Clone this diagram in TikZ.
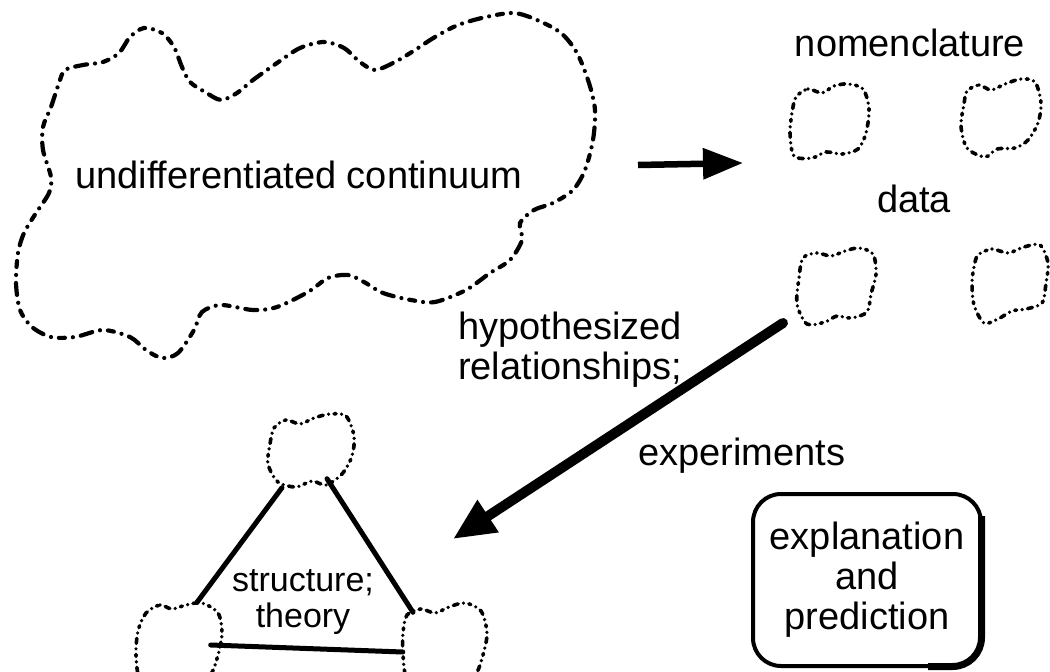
\documentclass[tikz,border=0pt]{standalone}
\usepackage{fontspec}
\setmainfont{Liberation Sans}
\usetikzlibrary{arrows.meta}
\tikzset{
  bigcloud/.style={line width=4.2pt, line cap=round, dash pattern=on 0pt off 8pt on 6pt off 8pt on 0pt off 8pt on 12pt off 8pt},
  smallcloud/.style={line width=3.6pt, line cap=round, dash pattern=on 0pt off 5.5pt on 5pt off 5.5pt on 0pt off 5.5pt on 2pt off 5.5pt},
  lbl/.style={inner sep=0pt, font=\fontsize{38}{40}\selectfont},
  anchornode/.style={inner sep=0pt, draw=none},
  tri/.style={line width=5pt, line cap=round},
}
\begin{document}
\begin{tikzpicture}[x=1pt,y=-1pt]
\useasboundingbox (0,0) rectangle (1050,672);
\clip (0,0) rectangle (1050,672);

% big cloud
\node[anchornode, minimum width=580pt, minimum height=345pt] (cont) at (305,185) {};
\draw[bigcloud] plot[smooth cycle, tension=0.5] coordinates {
(144,28) (162,33) (174,47) (182,67) (190,82) (205,92) (221,100) (237,93) (253,80) (277,63) (300,48) (324,42) (344,48) (360,62) (375,70) (395,62) (415,50) (435,37) (458,25) (486,17) (514,13) (537,20) (561,33) (577,53) (589,83) (595,110) (593,140) (585,170) (573,190) (553,203) (534,210) (520,223) (522,240) (510,260) (490,273) (466,290) (435,302) (411,300) (383,293) (364,282) (348,275) (328,278) (308,292) (277,307) (253,310) (221,305) (202,312) (194,330) (178,353) (162,358) (146,350) (130,337) (103,330) (75,337) (51,337) (32,327) (20,310) (16,283) (18,253) (24,233) (36,213) (49,193) (51,177) (43,150) (43,127) (51,107) (59,83) (65,70) (83,65) (103,62) (119,53) (130,37)};
\node[lbl, anchor=base west] (contlbl) at (75,188) {undifferentiated continuum};

% arrow cloud -> terms
\coordinate (a1s) at (638,165);
\coordinate (a1e) at (743,163);
\draw[line width=6.5pt, -{Triangle[length=40pt,width=30pt]}] (a1s) -- (a1e);

% labels right
\node[lbl, anchor=base] (nomen) at (910,56) {nomenclature};
\node[lbl, anchor=base] (data) at (914,212) {data};

% small clouds
\node[anchornode, minimum width=80pt, minimum height=78pt] (nl) at (830,121) {};
\draw[smallcloud, shift={(nl.center)}] plot[smooth cycle] coordinates {
(-34,-24) (-22,-32) (-8,-28) (4,-35) (18,-37) (33,-32) (39,-12) (36,12) (28,28) (12,33) (-4,31) (-18,37) (-36,35) (-40,12) (-38,-8)};
\node[anchornode, minimum width=82pt, minimum height=81pt] (nr) at (1001,118) {};
\draw[smallcloud, shift={(nr.center)}] plot[smooth cycle] coordinates {
(-34,-27) (-22,-33) (-10,-28) (4,-34) (20,-39) (34,-36) (40,-15) (37,5) (27,22) (14,30) (-4,31) (-16,39) (-34,30) (-40,8) (-37,-14)};
\node[anchornode, minimum width=81pt, minimum height=82pt] (dl) at (837,286) {};
\draw[smallcloud, shift={(dl.center)}] plot[smooth cycle] coordinates {
(-34,-28) (-20,-33) (-6,-30) (8,-35) (22,-38) (36,-32) (39,-12) (34,8) (30,26) (14,32) (0,30) (-12,36) (-30,38) (-40,18) (-38,-8)};
\node[anchornode, minimum width=76pt, minimum height=80pt] (dr) at (1010,283) {};
\draw[smallcloud, shift={(dr.center)}] plot[smooth cycle] coordinates {
(-32,-28) (-18,-34) (-2,-30) (14,-36) (30,-38) (38,-20) (36,0) (32,20) (16,26) (2,28) (-12,36) (-26,40) (-36,22) (-38,0) (-36,-16)};

% hypothesized label
\node[lbl, anchor=north west, align=left] (hyp) at (458,312) {hypothesized\\relationships;};

% big arrow
\coordinate (a2s) at (783,323);
\coordinate (a2e) at (453,539);
\draw[line width=10pt, line cap=round, -{Triangle[length=42pt,width=36pt]}] (a2s) -- (a2e);

\node[lbl, anchor=base west] (exp) at (638,465) {experiments};

% triangle clouds
\node[anchornode, minimum width=89pt, minimum height=75pt] (T) at (312,450) {};
\draw[smallcloud, shift={(T.center)}] plot[smooth cycle] coordinates {
(-38,-22) (-26,-30) (-12,-26) (2,-32) (18,-36) (34,-34) (42,-14) (40,6) (30,24) (14,35) (0,31) (-16,37) (-34,32) (-44,14) (-42,-6)};
\node[anchornode, minimum width=85pt, minimum height=85pt] (BL) at (180,645) {};
\draw[smallcloud, shift={(BL.center)}] plot[smooth cycle] coordinates {
(-34,-32) (-20,-40) (-8,-36) (6,-40) (22,-42) (38,-32) (42,-12) (38,10) (30,30) (10,36) (-6,34) (-22,40) (-40,34) (-44,10) (-42,-14)};
\node[anchornode, minimum width=84pt, minimum height=85pt] (BR) at (445,645) {};
\draw[smallcloud, shift={(BR.center)}] plot[smooth cycle] coordinates {
(-38,-30) (-24,-36) (-10,-32) (4,-38) (20,-42) (36,-34) (42,-12) (38,10) (30,30) (12,36) (-4,34) (-20,40) (-38,34) (-42,10) (-42,-12)};

\draw[tri] ([xshift=-30pt]T.south) -- ([xshift=17pt]BL.north);
\draw[tri] ([xshift=15pt,yshift=9pt]T.south) -- ([xshift=-32pt,yshift=-10pt]BR.north);
\draw[tri] ([xshift=-12pt]BL.east) -- ([yshift=-7pt]BR.west);

\node[inner sep=0pt, align=center, font=\fontsize{34}{36}\selectfont, anchor=north] (struct) at (303,569) {structure;\\theory};

% explanation box
\node[draw, line width=4pt, rounded corners=28pt, minimum width=228pt, minimum height=172pt, align=center, font=\fontsize{38}{40}\selectfont] (expl) at (867,580) {explanation\\and\\prediction};
\draw[line width=7pt, rounded corners=29pt] ([xshift=-1.5pt,yshift=-24pt]expl.north east) -- ([xshift=-1.5pt,yshift=1.5pt]expl.south east) -- ([xshift=-55pt,yshift=1.5pt]expl.south east);
\end{tikzpicture}
\end{document}
